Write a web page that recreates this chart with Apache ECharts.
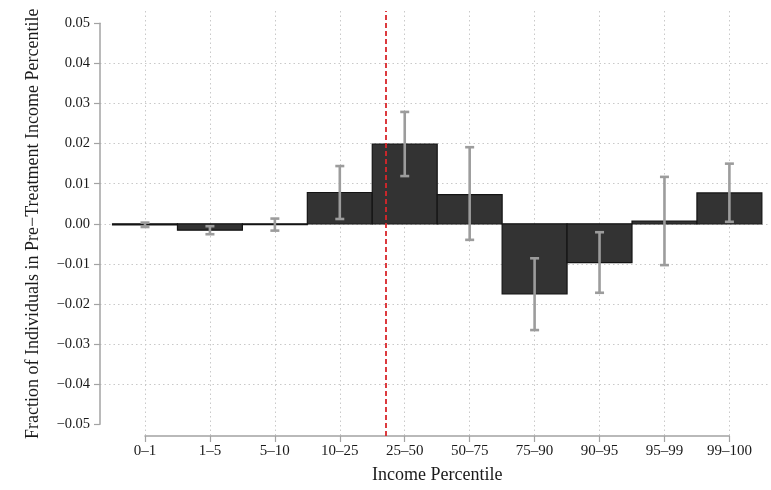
<!DOCTYPE html>
<html>
<head>
<meta charset="utf-8">
<script src="https://cdn.jsdelivr.net/npm/echarts@6/dist/echarts.min.js"></script>
<style>
  html, body { margin: 0; padding: 0; background: #fff; }
  #chart { width: 771px; height: 490px; }
</style>
</head>
<body>
<div id="chart"></div>
<script>
// Income percentile bins
const categories = ['0–1', '1–5', '5–10', '10–25', '25–50', '50–75', '75–90', '90–95', '95–99', '99–100'];
// Point estimates (change in fraction of individuals per bin)
const estimates = [-0.0003, -0.0016, -0.0002, 0.0078, 0.0199, 0.0073, -0.0175, -0.0097, 0.0007, 0.0077];
// 95% confidence interval bounds
const ciLower = [-0.0008, -0.0026, -0.0017, 0.0012, 0.0119, -0.0040, -0.0265, -0.0172, -0.0103, 0.0005];
const ciUpper = [0.0003, -0.0006, 0.0013, 0.0144, 0.0279, 0.0191, -0.0086, -0.0021, 0.0117, 0.0150];
// Reference line position, in bin units along the x axis
const refLinePos = 3.7;

// Layout (pixels)
const plotLeft = 100, plotRight = 770, plotTop = 23.3, plotBottom = 424.3;
const firstTickX = 145, lastTickX = 729.4, xAxisY = 436, vLineTop = 11;
const W = 771, H = 490;

const unit = (lastTickX - firstTickX) / (categories.length - 1);
const xMin = -(firstTickX - plotLeft) / unit;
const xMax = (categories.length - 1) + (plotRight - lastTickX) / unit;

const font = 'Liberation Serif';
const textColor = '#1a1a1a';
const axisGray = '#a3a3a3';
const gridGray = '#c9c9c9';

const fmtY = v => {
  const s = Math.abs(v).toFixed(2);
  return v < -1e-9 ? '\u2212' + s : s;
};

const barData = estimates.map((v, i) => [i, v]);
const errData = estimates.map((v, i) => [i, ciLower[i], ciUpper[i]]);

const chart = echarts.init(document.getElementById('chart'), null, { renderer: 'canvas' });

chart.setOption({
  animation: false,
  backgroundColor: '#ffffff',
  grid: [
    { left: plotLeft, right: W - plotRight, top: plotTop, bottom: H - plotBottom, containLabel: false },
    { left: firstTickX, right: W - lastTickX, top: vLineTop, bottom: H - xAxisY, containLabel: false }
  ],
  xAxis: [
    { type: 'value', gridIndex: 0, min: xMin, max: xMax, show: false, axisLine: { onZero: false } },
    {
      type: 'value', gridIndex: 1, min: 0, max: categories.length - 1, interval: 1,
      axisLine: { show: true, onZero: false, lineStyle: { color: axisGray, width: 1.5 } },
      axisTick: { show: true, inside: false, length: 6, lineStyle: { color: axisGray, width: 1.2 } },
      axisLabel: {
        show: true, margin: 8, color: textColor, fontFamily: font, fontSize: 15,
        formatter: v => categories[v] ?? ''
      },
      splitLine: { show: true, lineStyle: { color: gridGray, width: 1, type: [1.5, 3] } },
      name: 'Income Percentile', nameLocation: 'middle', nameGap: 30,
      nameTextStyle: { color: textColor, fontFamily: font, fontSize: 18 }
    }
  ],
  yAxis: [
    {
      type: 'value', gridIndex: 0, min: -0.05, max: 0.05, interval: 0.01,
      axisLine: { show: true, onZero: false, lineStyle: { color: axisGray, width: 1.5 } },
      axisTick: { show: true, inside: false, length: 6, lineStyle: { color: axisGray, width: 1.2 } },
      axisLabel: { show: true, margin: 10, color: textColor, fontFamily: font, fontSize: 14.5, formatter: fmtY },
      splitLine: { show: true, showMinLine: false, showMaxLine: false, lineStyle: { color: gridGray, width: 1, type: [1.5, 3] } },
      name: 'Fraction of Individuals in Pre\u2212Treatment Income Percentile',
      nameLocation: 'middle', nameGap: 58,
      nameTextStyle: { color: textColor, fontFamily: font, fontSize: 18 }
    },
    { type: 'value', gridIndex: 1, min: 0, max: 1, show: false, axisLine: { onZero: false } }
  ],
  series: [
    {
      // dashed reference line
      type: 'line', xAxisIndex: 1, yAxisIndex: 1, data: [], z: 1, silent: true,
      markLine: {
        silent: true, symbol: ['none', 'none'], label: { show: false },
        lineStyle: { color: '#d9262b', width: 1.8, type: [5, 3] },
        data: [{ xAxis: refLinePos }]
      }
    },
    {
      // bars spanning the whole bin width
      type: 'custom', xAxisIndex: 0, yAxisIndex: 0, z: 3, silent: true, clip: false,
      data: barData,
      renderItem: (params, api) => {
        const i = api.value(0), v = api.value(1);
        const a = api.coord([i - 0.5, v]);
        const b = api.coord([i + 0.5, 0]);
        return {
          type: 'rect',
          shape: { x: a[0], y: Math.min(a[1], b[1]), width: b[0] - a[0], height: Math.abs(b[1] - a[1]) },
          style: { fill: '#333333', stroke: '#141414', lineWidth: 1.2 }
        };
      }
    },
    {
      // confidence interval whiskers
      type: 'custom', xAxisIndex: 0, yAxisIndex: 0, z: 4, silent: true, clip: false,
      data: errData,
      renderItem: (params, api) => {
        const i = api.value(0);
        const lo = api.coord([i, api.value(1)]);
        const hi = api.coord([i, api.value(2)]);
        const cap = 4.5;
        const st = { stroke: '#9c9c9c', lineWidth: 2.6 };
        return {
          type: 'group',
          children: [
            { type: 'line', shape: { x1: lo[0], y1: lo[1], x2: hi[0], y2: hi[1] }, style: st },
            { type: 'line', shape: { x1: lo[0] - cap, y1: lo[1], x2: lo[0] + cap, y2: lo[1] }, style: st },
            { type: 'line', shape: { x1: hi[0] - cap, y1: hi[1], x2: hi[0] + cap, y2: hi[1] }, style: st }
          ]
        };
      }
    }
  ]
});
</script>
</body>
</html>
